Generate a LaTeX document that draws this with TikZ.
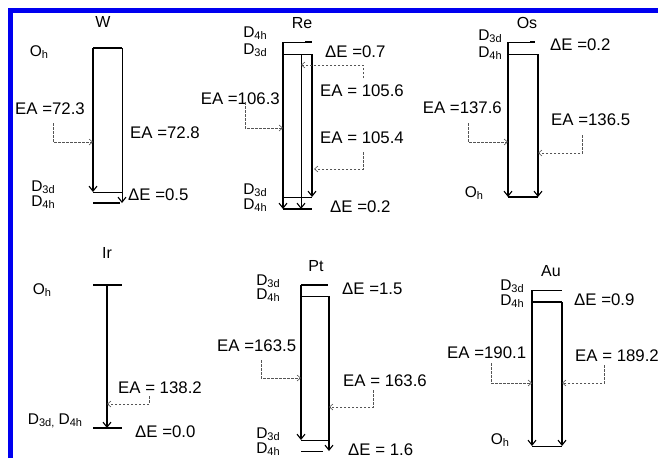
\documentclass[tikz,border=0pt]{standalone}
\usepackage{fontspec}
\setmainfont{Liberation Sans}
\usetikzlibrary{arrows.meta}
\definecolor{myblue}{HTML}{0000F0}
\definecolor{mydash}{HTML}{555555}
\tikzset{
levelthick/.style={
line width=2pt,
draw=black
},
levelthin/.style={
line width=0.9pt,
draw=black
},
relaxarrow/.style={
-{Straight Barb[length=5pt,width=8pt,line width=1.1pt]},
line width=1.2pt,
draw=black
},
eaarrow/.style={
-{Straight Barb[length=3.5pt,width=6pt,line width=0.6pt]},
dash pattern=on 2.5pt off 1.5pt,
line width=0.7pt,
draw=mydash
},
eatext/.style={
font=\fontsize{16.8}{19}\selectfont,
inner sep=0pt
},
elemlabel/.style={
font=\fontsize{16}{18}\selectfont,
inner sep=0pt
},
symlabel/.style={
font=\fontsize{15.5}{17}\selectfont,
inner sep=0pt
}
}
\newcommand{\sym}[2]{#1\raisebox{-0.3ex}{\fontsize{11}{12}\selectfont #2}}

\begin{document}
\begin{tikzpicture}[x=1pt,y=-1pt]
\useasboundingbox (0,0) rectangle (658,458);
\draw[myblue, line width=4.6pt] (10.5,458) -- (10.5,10.5) -- (658,10.5);

% W
\node[elemlabel] (w-name) at (103,22) {W};
\node[symlabel] (w-oh) at (39,52) {\sym{O}{h}};
\node[symlabel] (w-d3d) at (43,187) {\sym{D}{3d}};
\node[symlabel] (w-d4h) at (43,202) {\sym{D}{4h}};
\coordinate (w-t-l) at (93,48);
\coordinate (w-t-r) at (122,48);
\coordinate (w-b1-l) at (93,192);
\coordinate (w-b1-r) at (122,192);
\coordinate (w-b2-l) at (93,203);
\coordinate (w-b2-r) at (120,203);
\coordinate (w-b2-a) at (122,203);
\draw[levelthick] (w-t-l) -- (w-t-r);
\draw[levelthin] (w-b1-l) -- (w-b1-r);
\draw[levelthick] (w-b2-l) -- (w-b2-r);
\draw[relaxarrow] (w-t-l) -- (w-b1-l);
\draw[relaxarrow, line width=0.9pt] (w-t-r) -- (w-b2-a);
\node[eatext, anchor=west] (w-de) at (128,195) {ΔE =0.5};
\node[eatext, anchor=west] (w-ea1) at (15,109) {EA =72.3};
\node[eatext, anchor=west] (w-ea2) at (130,133) {EA =72.8};
\coordinate (w-ea1-s) at (53,123);
\coordinate (w-ea1-e) at (93,142);
\draw[eaarrow] (w-ea1-s) |- (w-ea1-e);

% Re
\node[elemlabel] (re-name) at (302,23) {Re};
\node[symlabel] (re-d4h-t) at (255,33) {\sym{D}{4h}};
\node[symlabel] (re-d3d-t) at (255,50) {\sym{D}{3d}};
\node[symlabel] (re-d3d-b) at (255,190) {\sym{D}{3d}};
\node[symlabel] (re-d4h-b) at (255,205) {\sym{D}{4h}};
\coordinate (re-t1-l) at (283,42);
\coordinate (re-t1-k) at (305,42);
\coordinate (re-t1-r) at (312,42);
\coordinate (re-t2-l) at (283,54);
\coordinate (re-t2-m) at (301,54);
\coordinate (re-t2-r) at (312,54);
\coordinate (re-b1-l) at (283,197);
\coordinate (re-b1-r) at (312,197);
\coordinate (re-b2-l) at (283,209);
\coordinate (re-b2-m) at (301,209);
\coordinate (re-b2-r) at (312,209);
\draw[levelthin] (re-t1-l) -- (re-t1-r);
\draw[levelthick] (re-t1-k) -- (re-t1-r);
\draw[levelthin] (re-t2-l) -- (re-t2-r);
\draw[levelthin] (re-b1-l) -- (re-b1-r);
\draw[levelthick] (re-b2-l) -- (re-b2-r);
\draw[relaxarrow] (re-t1-l) -- (re-b2-l);
\draw[relaxarrow, line width=0.9pt] (re-t2-m) -- (re-b2-m);
\draw[relaxarrow] (re-t2-r) -- (re-b1-r);
\node[eatext, anchor=west] (re-de1) at (325,52) {ΔE =0.7};
\node[eatext, anchor=west] (re-de2) at (330,207) {ΔE =0.2};
\node[eatext, anchor=east] (re-ea1) at (280,99) {EA =106.3};
\node[eatext, anchor=west] (re-ea2) at (320,91) {EA = 105.6};
\node[eatext, anchor=west] (re-ea3) at (320,138) {EA = 105.4};
\coordinate (re-ea1-s) at (245,102);
\coordinate (re-ea1-e) at (283,128);
\coordinate (re-ea2-s) at (363,78);
\coordinate (re-ea2-e) at (301,65);
\coordinate (re-ea3-s) at (363,152);
\coordinate (re-ea3-e) at (314,169);
\draw[eaarrow] (re-ea1-s) |- (re-ea1-e);
\draw[eaarrow] (re-ea2-s) |- (re-ea2-e);
\draw[eaarrow] (re-ea3-s) |- (re-ea3-e);

% Os
\node[elemlabel] (os-name) at (527,23) {Os};
\node[symlabel] (os-d3d) at (490,36) {\sym{D}{3d}};
\node[symlabel] (os-d4h) at (490,53) {\sym{D}{4h}};
\node[symlabel] (os-oh) at (474,193) {\sym{O}{h}};
\coordinate (os-t1-l) at (508,42);
\coordinate (os-t1-k) at (530,42);
\coordinate (os-t1-r) at (535,42);
\coordinate (os-t2-l) at (508,54);
\coordinate (os-t2-r) at (538,54);
\coordinate (os-b-l) at (508,197);
\coordinate (os-b-r) at (538,197);
\draw[levelthin] (os-t1-l) -- (os-t1-r);
\draw[levelthick] (os-t1-k) -- (os-t1-r);
\draw[levelthin] (os-t2-l) -- (os-t2-r);
\draw[levelthick] (os-b-l) -- (os-b-r);
\draw[relaxarrow] (os-t1-l) -- (os-b-l);
\draw[relaxarrow] (os-t2-r) -- (os-b-r);
\node[eatext, anchor=west] (os-de) at (550,45) {ΔE =0.2};
\node[eatext, anchor=east] (os-ea1) at (502,108) {EA =137.6};
\node[eatext, anchor=west] (os-ea2) at (551,120) {EA =136.5};
\coordinate (os-ea1-s) at (468,123);
\coordinate (os-ea1-e) at (508,142);
\coordinate (os-ea2-s) at (582,135);
\coordinate (os-ea2-e) at (538,153);
\draw[eaarrow] (os-ea1-s) |- (os-ea1-e);
\draw[eaarrow] (os-ea2-s) |- (os-ea2-e);

% Ir
\node[elemlabel] (ir-name) at (107,253) {Ir};
\node[symlabel] (ir-oh) at (42,290) {\sym{O}{h}};
\node[symlabel] (ir-d) at (55,421) {\sym{D}{3d,} \sym{D}{4h}};
\coordinate (ir-t-l) at (93,285);
\coordinate (ir-t-m) at (107,285);
\coordinate (ir-t-r) at (122,285);
\coordinate (ir-b-l) at (93,428);
\coordinate (ir-b-m) at (107,428);
\coordinate (ir-b-r) at (122,428);
\draw[levelthick] (ir-t-l) -- (ir-t-r);
\draw[levelthick] (ir-b-l) -- (ir-b-r);
\draw[relaxarrow] (ir-t-m) -- (ir-b-m);
\node[eatext, anchor=west] (ir-de) at (135,432) {ΔE =0.0};
\node[eatext, anchor=west] (ir-ea) at (118,388) {EA = 138.2};
\coordinate (ir-ea-s) at (149,396);
\coordinate (ir-ea-e) at (107,404);
\draw[eaarrow] (ir-ea-s) |- (ir-ea-e);

% Pt
\node[elemlabel] (pt-name) at (316,266) {Pt};
\node[symlabel] (pt-d3d-t) at (268,281) {\sym{D}{3d}};
\node[symlabel] (pt-d4h-t) at (268,295) {\sym{D}{4h}};
\node[symlabel] (pt-d3d-b) at (268,434) {\sym{D}{3d}};
\node[symlabel] (pt-d4h-b) at (268,449) {\sym{D}{4h}};
\coordinate (pt-t1-l) at (301,285);
\coordinate (pt-t1-r) at (328,285);
\coordinate (pt-t2-l) at (301,296);
\coordinate (pt-t2-r) at (329,296);
\coordinate (pt-b1-l) at (301,440);
\coordinate (pt-b1-r) at (329,440);
\coordinate (pt-b2-l) at (301,451);
\coordinate (pt-b2-r) at (323,451);
\coordinate (pt-b2-a) at (329,451);
\draw[levelthick] (pt-t1-l) -- (pt-t1-r);
\draw[levelthin] (pt-t2-l) -- (pt-t2-r);
\draw[levelthin] (pt-b1-l) -- (pt-b1-r);
\draw[levelthin] (pt-b2-l) -- (pt-b2-r);
\draw[relaxarrow] (pt-t1-l) -- (pt-b1-l);
\draw[relaxarrow] (pt-t2-r) -- (pt-b2-a);
\node[eatext, anchor=west] (pt-de1) at (342,289) {ΔE =1.5};
\node[eatext, anchor=west] (pt-de2) at (348,450) {ΔE = 1.6};
\node[eatext, anchor=west] (pt-ea1) at (217,346) {EA =163.5};
\node[eatext, anchor=west] (pt-ea2) at (343,381) {EA = 163.6};
\coordinate (pt-ea1-s) at (261,360);
\coordinate (pt-ea1-e) at (301,378);
\coordinate (pt-ea2-s) at (373,390);
\coordinate (pt-ea2-e) at (329,407);
\draw[eaarrow] (pt-ea1-s) |- (pt-ea1-e);
\draw[eaarrow] (pt-ea2-s) |- (pt-ea2-e);

% Au
\node[elemlabel] (au-name) at (551,271) {Au};
\node[symlabel] (au-d3d) at (512,286) {\sym{D}{3d}};
\node[symlabel] (au-d4h) at (512,301) {\sym{D}{4h}};
\node[symlabel] (au-oh) at (500,440) {\sym{O}{h}};
\coordinate (au-t1-l) at (532,290);
\coordinate (au-t1-r) at (562,290);
\coordinate (au-t2-l) at (532,302);
\coordinate (au-t2-r) at (562,302);
\coordinate (au-b-l) at (532,446);
\coordinate (au-b-r) at (562,446);
\draw[levelthin] (au-t1-l) -- (au-t1-r);
\draw[levelthick] (au-t2-l) -- (au-t2-r);
\draw[levelthin] (au-b-l) -- (au-b-r);
\draw[relaxarrow] (au-t1-l) -- (au-b-l);
\draw[relaxarrow] (au-t2-r) -- (au-b-r);
\node[eatext, anchor=west] (au-de) at (574,300) {ΔE =0.9};
\node[eatext, anchor=west] (au-ea1) at (447,353) {EA =190.1};
\node[eatext, anchor=west] (au-ea2) at (575,356) {EA = 189.2};
\coordinate (au-ea1-s) at (491,363);
\coordinate (au-ea1-e) at (532,383);
\coordinate (au-ea2-s) at (604,365);
\coordinate (au-ea2-e) at (562,383);
\draw[eaarrow] (au-ea1-s) |- (au-ea1-e);
\draw[eaarrow] (au-ea2-s) |- (au-ea2-e);
\end{tikzpicture}
\end{document}
